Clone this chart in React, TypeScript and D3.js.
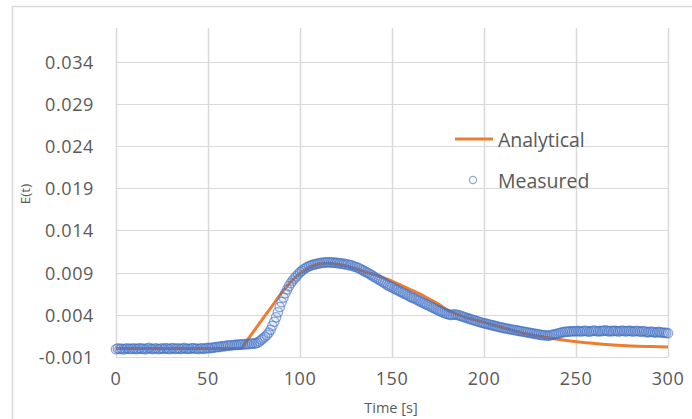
import React from 'react';
import * as d3 from 'd3';

const xTicks = [0, 50, 100, 150, 200, 250, 300];
const yTicks = [-0.001, 0.004, 0.009, 0.014, 0.019, 0.024, 0.029, 0.034];

const analyticalTime = [0, 30, 65, 68, 70, 75, 80, 85, 90, 95, 100, 105, 110, 115, 120, 125, 130, 135, 140, 145, 150, 155, 160, 165, 170, 175, 180, 185, 190, 195, 200, 210, 220, 230, 240, 250, 260, 270, 280, 290, 300];
const analyticalE = [0, 0, 0, 0.00002, 0.0006, 0.0021, 0.0036, 0.0051, 0.0066, 0.0079, 0.0089, 0.0096, 0.0100, 0.0101, 0.0100, 0.0098, 0.0095, 0.0091, 0.0088, 0.0084, 0.0080, 0.0075, 0.0070, 0.0065, 0.0059, 0.0053, 0.0046, 0.0041, 0.0037, 0.0034, 0.0031, 0.0025, 0.0019, 0.00145, 0.0011, 0.0008, 0.0006, 0.00042, 0.0003, 0.00024, 0.0002];

const measuredStartTime = 0;
const measuredStep = 1;
const measuredE = [
  -0.00008, 0.00002, -0.00005, 0.00000, -0.00010, -0.00003, 0.00004, -0.00006, 0.00001, -0.00004,
  0.00003, -0.00007, -0.00002, 0.00005, -0.00004, 0.00000, -0.00009, 0.00002, 0.00008, -0.00003,
  -0.00006, 0.00001, 0.00004, -0.00008, -0.00002, 0.00003, -0.00005, 0.00006, -0.00001, -0.00007,
  0.00002, 0.00005, -0.00004, -0.00001, 0.00004, -0.00006, 0.00001, 0.00007, -0.00003, 0.00000,
  -0.00005, 0.00003, 0.00006, -0.00002, 0.00001, -0.00006, 0.00004, 0.00002, -0.00003, 0.00005,
  0.00008, 0.00004, 0.00012, 0.00009, 0.00016, 0.00020, 0.00018, 0.00025, 0.00030, 0.00027,
  0.00034, 0.00038, 0.00035, 0.00042, 0.00040, 0.00046, 0.00043, 0.00050, 0.00047, 0.00052,
  0.00049, 0.00055, 0.00052, 0.00058, 0.00061, 0.00057, 0.00064, 0.00070, 0.00085, 0.00105,
  0.00122, 0.00140, 0.00162, 0.00188, 0.00222, 0.00270, 0.00318, 0.00370, 0.00430, 0.00492,
  0.00550, 0.00605, 0.00655, 0.00700, 0.00740, 0.00775, 0.00805, 0.00832, 0.00856, 0.00880,
  0.00905, 0.00922, 0.00940, 0.00955, 0.00966, 0.00978, 0.00985, 0.00994, 0.00998, 0.01005,
  0.01010, 0.01012, 0.01020, 0.01016, 0.01024, 0.01020, 0.01026, 0.01018, 0.01022, 0.01015,
  0.01018, 0.01010, 0.01012, 0.01003, 0.01006, 0.00995, 0.00998, 0.00986, 0.00990, 0.00976,
  0.00970, 0.00962, 0.00955, 0.00940, 0.00930, 0.00918, 0.00905, 0.00896, 0.00882, 0.00870,
  0.00855, 0.00842, 0.00830, 0.00815, 0.00805, 0.00790, 0.00778, 0.00760, 0.00748, 0.00735,
  0.00728, 0.00715, 0.00702, 0.00695, 0.00680, 0.00672, 0.00660, 0.00648, 0.00640, 0.00625,
  0.00615, 0.00604, 0.00598, 0.00585, 0.00572, 0.00565, 0.00550, 0.00542, 0.00530, 0.00520,
  0.00510, 0.00498, 0.00486, 0.00478, 0.00466, 0.00455, 0.00446, 0.00436, 0.00426, 0.00418,
  0.00410, 0.00404, 0.00398, 0.00402, 0.00406, 0.00401, 0.00396, 0.00390, 0.00382, 0.00376,
  0.00368, 0.00360, 0.00354, 0.00346, 0.00340, 0.00332, 0.00326, 0.00320, 0.00312, 0.00306,
  0.00300, 0.00296, 0.00290, 0.00285, 0.00278, 0.00274, 0.00268, 0.00262, 0.00258, 0.00252,
  0.00248, 0.00242, 0.00238, 0.00234, 0.00230, 0.00226, 0.00222, 0.00218, 0.00215, 0.00210,
  0.00207, 0.00202, 0.00198, 0.00195, 0.00190, 0.00186, 0.00182, 0.00178, 0.00174, 0.00170,
  0.00166, 0.00162, 0.00158, 0.00160, 0.00155, 0.00152, 0.00158, 0.00162, 0.00166, 0.00172,
  0.00178, 0.00184, 0.00190, 0.00194, 0.00198, 0.00202, 0.00200, 0.00206, 0.00203, 0.00208,
  0.00204, 0.00210, 0.00206, 0.00202, 0.00208, 0.00212, 0.00205, 0.00200, 0.00206, 0.00210,
  0.00214, 0.00208, 0.00204, 0.00210, 0.00206, 0.00212, 0.00216, 0.00209, 0.00204, 0.00210,
  0.00206, 0.00212, 0.00208, 0.00203, 0.00207, 0.00213, 0.00209, 0.00204, 0.00208, 0.00212,
  0.00206, 0.00202, 0.00207, 0.00211, 0.00205, 0.00200, 0.00204, 0.00208, 0.00198, 0.00193,
  0.00197, 0.00201, 0.00195, 0.00190, 0.00194, 0.00198, 0.00192, 0.00187, 0.00190, 0.00185,
  0.00182
];

const seriesNames = ['Analytical', 'Measured'];
const xTitle = 'Time [s]';
const yTitle = 'E(t)';

const ORANGE = '#ED7D31';
const BLUE = '#4472C4';
const GRID = '#d9d9d9';
const TEXT = '#595959';
const FONT = "'Open Sans', sans-serif";

export default function App() {
  const W = 692;
  const H = 419;
  const x = d3.scaleLinear().domain([0, 300]).range([116, 668]);
  const y = d3.scaleLinear().domain([-0.001, 0.038]).range([357, 28]);

  const analytical = analyticalTime.map((t, i) => [t, analyticalE[i]] as [number, number]);
  const measured = measuredE.map((v, i) => [measuredStartTime + i * measuredStep, v] as [number, number]);

  const line = d3
    .line<[number, number]>()
    .x((d) => x(d[0]))
    .y((d) => y(d[1]))
    .curve(d3.curveMonotoneX);

  const [x0, x1] = x.range();
  const [yb, yt] = y.range();

  return (
    <svg
      width={W}
      height={H}
      style={{ position: 'absolute', left: 0, top: 0, background: '#fff' }}
      fontFamily={FONT}
    >
      <rect x={0} y={0} width={W} height={H} fill="#fff" />
      <rect x={12.5} y={6.5} width={W + 20} height={H + 20} fill="#fff" stroke={GRID} strokeWidth={1.5} />
      {yTicks.map((v) => (
        <line key={'gy' + v} x1={x0} x2={x1} y1={Math.round(y(v)) + 0.5} y2={Math.round(y(v)) + 0.5} stroke={GRID} strokeWidth={1} />
      ))}
      {xTicks.map((v) => (
        <line key={'gx' + v} x1={Math.round(x(v)) + 0.5} x2={Math.round(x(v)) + 0.5} y1={yt} y2={yb} stroke={GRID} strokeWidth={1.5} />
      ))}
      {yTicks.map((v) => (
        <text key={'ly' + v} x={94} y={y(v)} textAnchor="end" dominantBaseline="central" fontSize={18} fill={TEXT} letterSpacing={0.6}>
          {v.toFixed(3)}
        </text>
      ))}
      {xTicks.map((v) => (
        <text key={'lx' + v} x={x(v)} y={378} textAnchor="middle" dominantBaseline="central" fontSize={18} fill={TEXT} letterSpacing={0.6}>
          {v}
        </text>
      ))}
      <text x={391} y={407} textAnchor="middle" dominantBaseline="central" fontSize={14.5} fill={TEXT}>
        {xTitle}
      </text>
      <text
        transform={`translate(25,194) rotate(-90)`}
        textAnchor="middle"
        dominantBaseline="central"
        fontSize={13.5}
        fill={TEXT}
      >
        {yTitle}
      </text>
      <path d={line(analytical) || ''} fill="none" stroke={ORANGE} strokeWidth={3} />
      {measured.map((d, i) => (
        <circle
          key={'m' + i}
          cx={x(d[0])}
          cy={y(d[1])}
          r={4.7}
          fill={BLUE}
          fillOpacity={0.06}
          stroke={BLUE}
          strokeOpacity={0.6}
          strokeWidth={1.3}
        />
      ))}
      <line x1={455} x2={493} y1={139} y2={139} stroke={ORANGE} strokeWidth={3} />
      <text x={498} y={139} dominantBaseline="central" fontSize={19.5} fill={TEXT}>
        {seriesNames[0]}
      </text>
      <circle cx={473} cy={180} r={3.6} fill="none" stroke="#8FAADC" strokeWidth={1.3} />
      <text x={498} y={180} dominantBaseline="central" fontSize={19.5} fill={TEXT}>
        {seriesNames[1]}
      </text>
    </svg>
  );
}
